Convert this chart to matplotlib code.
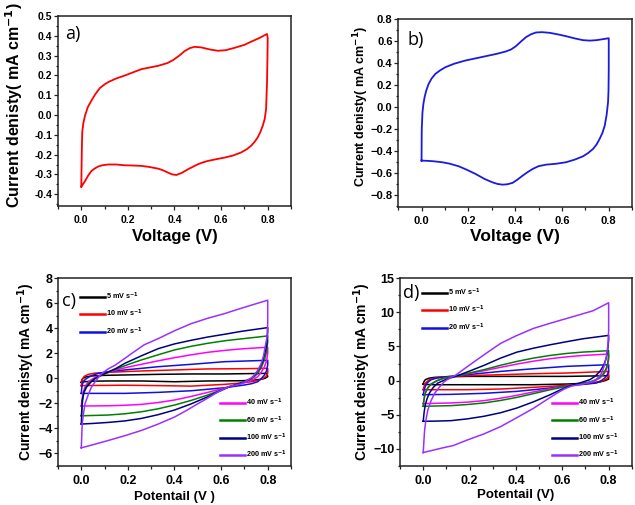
import matplotlib
matplotlib.use("Agg")
import matplotlib.pyplot as plt
from matplotlib.ticker import MultipleLocator, AutoMinorLocator
from matplotlib.lines import Line2D

# ---- data: (V, j) points round each CV loop ----
# panel a (red)
a_loop = [(0, -0.362), (0.002, -0.2), (0.004, -0.087), (0.009, -0.04), (0.016, -0.003),
          (0.028, 0.04), (0.044, 0.074), (0.06, 0.105), (0.08, 0.137), (0.1, 0.155),
          (0.116, 0.167), (0.15, 0.185), (0.187, 0.2), (0.22, 0.215), (0.258, 0.232),
          (0.3, 0.242), (0.33, 0.249), (0.37, 0.263), (0.394, 0.278), (0.42, 0.3),
          (0.443, 0.323), (0.465, 0.338), (0.486, 0.345), (0.515, 0.342), (0.55, 0.332),
          (0.586, 0.325), (0.62, 0.328), (0.658, 0.34), (0.7, 0.355), (0.729, 0.371),
          (0.765, 0.39), (0.797, 0.41), (0.8, 0.39), (0.799, 0.3), (0.797, 0.167),
          (0.793, 0.03), (0.787, -0.02), (0.779, -0.053), (0.768, -0.087), (0.757, -0.113),
          (0.744, -0.135), (0.729, -0.155), (0.71, -0.173), (0.686, -0.189), (0.65, -0.205),
          (0.615, -0.215), (0.58, -0.223), (0.543, -0.232), (0.52, -0.24), (0.5, -0.249),
          (0.478, -0.262), (0.458, -0.274), (0.432, -0.292), (0.408, -0.303), (0.39, -0.3),
          (0.372, -0.291), (0.35, -0.279), (0.33, -0.271), (0.29, -0.262), (0.258, -0.257),
          (0.22, -0.255), (0.187, -0.254), (0.15, -0.25), (0.115, -0.25), (0.09, -0.254),
          (0.073, -0.26), (0.058, -0.27), (0.044, -0.282), (0.03, -0.305), (0.016, -0.334),
          (0.006, -0.352), (0, -0.362)]
# panel b (blue)
b_loop = [(0, -0.487), (0.0005, -0.3), (0.001, -0.199), (0.004, -0.047), (0.008, 0.03),
          (0.013, 0.09), (0.02, 0.15), (0.03, 0.21), (0.043, 0.26), (0.059, 0.302),
          (0.08, 0.335), (0.102, 0.363), (0.14, 0.395), (0.188, 0.424), (0.23, 0.443),
          (0.274, 0.463), (0.32, 0.484), (0.36, 0.506), (0.383, 0.525), (0.403, 0.554),
          (0.425, 0.597), (0.446, 0.636), (0.467, 0.662), (0.489, 0.679), (0.515, 0.682),
          (0.547, 0.676), (0.58, 0.663), (0.618, 0.645), (0.655, 0.625), (0.69, 0.609),
          (0.72, 0.605), (0.747, 0.609), (0.775, 0.618), (0.8, 0.627), (0.8, 0.606),
          (0.8, 0.348), (0.799, 0.15), (0.797, 0.044), (0.791, -0.07), (0.783, -0.168),
          (0.773, -0.235), (0.761, -0.29), (0.748, -0.34), (0.733, -0.381), (0.712, -0.418),
          (0.69, -0.448), (0.655, -0.478), (0.618, -0.502), (0.575, -0.516), (0.532, -0.524),
          (0.5, -0.538), (0.475, -0.563), (0.452, -0.594), (0.432, -0.624), (0.41, -0.66),
          (0.389, -0.69), (0.366, -0.703), (0.346, -0.706), (0.325, -0.7), (0.303, -0.685),
          (0.27, -0.655), (0.231, -0.609), (0.195, -0.572), (0.159, -0.539), (0.12, -0.515),
          (0.088, -0.502), (0.05, -0.493), (0.03, -0.49), (0, -0.487)]

# panel c
c_labels = ["5 mV s$^{-1}$", "10 mV s$^{-1}$", "20 mV s$^{-1}$", "40 mV s$^{-1}$",
            "60 mV s$^{-1}$", "100 mV s$^{-1}$", "200 mV s$^{-1}$"]
c_5 = [(0, -0.32), (0.003, -0.1), (0.008, 0), (0.02, 0.12), (0.044, 0.19), (0.1, 0.24),
       (0.187, 0.27), (0.33, 0.32), (0.472, 0.35), (0.615, 0.35), (0.797, 0.4), (0.8, 0.13),
       (0.788, 0), (0.771, -0.08), (0.735, -0.15), (0.686, -0.19), (0.543, -0.21),
       (0.401, -0.27), (0.258, -0.21), (0.116, -0.21), (0.04, -0.23), (0.01, -0.28), (0, -0.32)]
c_10 = [(0, -0.59), (0.004, -0.13), (0.012, 0.15), (0.03, 0.32), (0.06, 0.42), (0.115, 0.48),
        (0.26, 0.59), (0.4, 0.67), (0.54, 0.75), (0.69, 0.77), (0.8, 0.8), (0.8, 0.4),
        (0.792, 0.15), (0.78, 0), (0.76, -0.15), (0.73, -0.27), (0.68, -0.38), (0.615, -0.48),
        (0.47, -0.62), (0.33, -0.58), (0.187, -0.55), (0.044, -0.57), (0, -0.59)]
c_20 = [(0, -1.2), (0.002, -0.8), (0.004, -0.53), (0.01, -0.22), (0.023, 0), (0.045, 0.22),
        (0.073, 0.4), (0.12, 0.54), (0.187, 0.67), (0.33, 0.93), (0.472, 1.12), (0.615, 1.33),
        (0.8, 1.44), (0.8, 1.07), (0.795, 0.6), (0.786, 0.27), (0.773, 0), (0.757, -0.27),
        (0.73, -0.43), (0.7, -0.53), (0.615, -0.75), (0.472, -0.99), (0.33, -1.12),
        (0.187, -1.2), (0.02, -1.2), (0, -1.2)]
c_40 = [(0, -2.21), (0.004, -1.6), (0.009, -1.07), (0.018, -0.6), (0.03, -0.27),
        (0.05, -0.02), (0.073, 0.19), (0.11, 0.43), (0.15, 0.67), (0.2, 0.9), (0.258, 1.12),
        (0.33, 1.4), (0.4, 1.65), (0.472, 1.88), (0.543, 2.08), (0.615, 2.23), (0.686, 2.35),
        (0.75, 2.43), (0.8, 2.48), (0.8, 2.0), (0.795, 1.4), (0.786, 0.93), (0.772, 0.48),
        (0.757, 0.13), (0.738, -0.1), (0.714, -0.27), (0.636, -0.67), (0.543, -1.12),
        (0.47, -1.45), (0.4, -1.73), (0.33, -1.93), (0.258, -2.08), (0.187, -2.15),
        (0.115, -2.19), (0, -2.21)]
c_60 = [(0, -2.99), (0.004, -2.1), (0.009, -1.33), (0.018, -0.8), (0.03, -0.4), (0.05, -0.12),
        (0.073, 0.13), (0.11, 0.44), (0.15, 0.75), (0.2, 1.1), (0.258, 1.47), (0.33, 1.88),
        (0.4, 2.27), (0.472, 2.56), (0.543, 2.8), (0.615, 3.0), (0.686, 3.15), (0.75, 3.28),
        (0.8, 3.39), (0.8, 2.93), (0.795, 2.1), (0.786, 1.47), (0.772, 0.85), (0.757, 0.4),
        (0.74, 0.08), (0.72, -0.13), (0.68, -0.4), (0.636, -0.67), (0.543, -1.33),
        (0.47, -1.77), (0.4, -2.13), (0.33, -2.43), (0.258, -2.67), (0.187, -2.83),
        (0.115, -2.93), (0, -2.99)]
c_100 = [(0, -3.65), (0.002, -2.8), (0.004, -1.76), (0.012, -1.07), (0.023, -0.69),
         (0.04, -0.33), (0.058, -0.03), (0.087, 0.27), (0.116, 0.51), (0.15, 0.8),
         (0.187, 1.2), (0.258, 1.8), (0.33, 2.37), (0.4, 2.75), (0.472, 3.04), (0.543, 3.3),
         (0.615, 3.52), (0.686, 3.75), (0.75, 3.92), (0.8, 4.05), (0.8, 3.73), (0.795, 2.6),
         (0.786, 1.87), (0.776, 1.25), (0.764, 0.8), (0.748, 0.35), (0.729, 0), (0.69, -0.35),
         (0.636, -0.67), (0.59, -1.05), (0.543, -1.47), (0.47, -2.05), (0.4, -2.53),
         (0.33, -2.9), (0.258, -3.2), (0.187, -3.4), (0.115, -3.52), (0.05, -3.6), (0, -3.65)]
c_200 = [(0, -5.55), (0.002, -4.6), (0.004, -3.63), (0.01, -2.75), (0.016, -2.03),
         (0.03, -1.3), (0.044, -0.69), (0.065, -0.12), (0.087, 0.37), (0.115, 0.75),
         (0.144, 1.04), (0.18, 1.5), (0.215, 1.97), (0.27, 2.68), (0.33, 3.17), (0.4, 3.8),
         (0.472, 4.37), (0.543, 4.8), (0.615, 5.17), (0.67, 5.5), (0.729, 5.84), (0.8, 6.24),
         (0.8, 4.37), (0.797, 3.3), (0.789, 2.51), (0.782, 1.8), (0.772, 1.17), (0.756, 0.6),
         (0.736, 0.11), (0.71, -0.2), (0.686, -0.43), (0.66, -0.55), (0.636, -0.64),
         (0.586, -1.09), (0.545, -1.55), (0.5, -2.03), (0.45, -2.58), (0.4, -3.09),
         (0.33, -3.65), (0.258, -4.16), (0.187, -4.58), (0.116, -4.96), (0.06, -5.25),
         (0, -5.55)]

# panel d
d_5 = [(0, -0.5), (0.003, -0.15), (0.009, 0.14), (0.025, 0.36), (0.049, 0.48), (0.1, 0.56),
       (0.191, 0.62), (0.334, 0.62), (0.476, 0.62), (0.619, 0.62), (0.8, 0.72), (0.8, 0.23),
       (0.785, 0), (0.762, -0.2), (0.7, -0.38), (0.619, -0.5), (0.476, -0.6), (0.334, -0.6),
       (0.191, -0.6), (0.049, -0.6), (0.01, -0.56), (0, -0.5)]
d_10 = [(0, -1.33), (0.004, -0.8), (0.009, -0.35), (0.025, 0.1), (0.049, 0.38), (0.1, 0.58),
        (0.191, 0.72), (0.334, 0.87), (0.476, 1.01), (0.619, 1.11), (0.8, 1.35), (0.8, 0.62),
        (0.79, 0.25), (0.776, -0.01), (0.75, -0.22), (0.719, -0.4), (0.619, -0.69),
        (0.476, -0.98), (0.334, -1.23), (0.191, -1.33), (0.049, -1.33), (0, -1.33)]
d_20 = [(0, -2.06), (0.004, -1.4), (0.009, -0.84), (0.018, -0.3), (0.034, 0.14),
        (0.06, 0.38), (0.091, 0.53), (0.191, 0.87), (0.334, 1.35), (0.476, 1.74),
        (0.619, 2.09), (0.8, 2.33), (0.8, 1.35), (0.793, 0.8), (0.783, 0.38), (0.768, 0),
        (0.748, -0.35), (0.7, -0.52), (0.641, -0.69), (0.548, -1.08), (0.405, -1.57),
        (0.262, -1.86), (0.12, -2.01), (0, -2.06)]
d_40 = [(0, -3.37), (0.004, -2.5), (0.009, -1.81), (0.02, -1.05), (0.034, -0.5), (0.06, 0.0),
        (0.091, 0.38), (0.148, 0.72), (0.2, 1.05), (0.262, 1.45), (0.334, 1.95), (0.405, 2.43),
        (0.476, 2.85), (0.548, 3.21), (0.619, 3.48), (0.69, 3.69), (0.8, 3.89), (0.8, 3.06),
        (0.796, 2.3), (0.79, 1.6), (0.778, 0.9), (0.762, 0.38), (0.742, 0.02), (0.719, -0.25),
        (0.641, -0.69), (0.548, -1.18), (0.476, -1.65), (0.405, -2.15), (0.334, -2.58),
        (0.262, -2.93), (0.19, -3.15), (0.12, -3.27), (0, -3.37)]
d_60 = [(0, -3.76), (0.004, -2.7), (0.009, -1.81), (0.02, -1.05), (0.034, -0.5), (0.06, 0.0),
        (0.091, 0.38), (0.148, 0.72), (0.2, 1.12), (0.262, 1.6), (0.334, 2.25), (0.405, 2.82),
        (0.476, 3.3), (0.548, 3.69), (0.619, 3.98), (0.69, 4.18), (0.8, 4.38), (0.8, 3.55),
        (0.796, 2.6), (0.79, 1.84), (0.778, 1.05), (0.762, 0.48), (0.742, 0.08), (0.719, -0.2),
        (0.641, -0.69), (0.548, -1.33), (0.476, -1.9), (0.405, -2.45), (0.334, -2.9),
        (0.262, -3.27), (0.19, -3.5), (0.12, -3.66), (0, -3.76)]
d_100 = [(0, -5.95), (0.004, -4.6), (0.009, -3.52), (0.017, -2.6), (0.027, -1.81),
         (0.043, -1.0), (0.063, -0.35), (0.1, 0.2), (0.148, 0.72), (0.2, 1.4), (0.262, 2.23),
         (0.334, 3.3), (0.405, 4.18), (0.476, 4.75), (0.548, 5.25), (0.619, 5.7), (0.69, 6.13),
         (0.75, 6.4), (0.8, 6.62), (0.8, 5.98), (0.796, 4.5), (0.79, 3.3), (0.778, 2.2),
         (0.762, 1.35), (0.742, 0.65), (0.719, 0.14), (0.68, -0.3), (0.641, -0.69),
         (0.595, -1.3), (0.548, -2.06), (0.476, -3.1), (0.405, -4.0), (0.334, -4.7),
         (0.262, -5.22), (0.19, -5.6), (0.12, -5.86), (0.05, -5.93), (0, -5.95)]
d_200 = [(0, -10.53), (0.003, -8.8), (0.006, -7.22), (0.012, -5.7), (0.02, -4.29),
         (0.033, -3.0), (0.049, -1.86), (0.07, -0.95), (0.091, -0.15), (0.115, 0.4),
         (0.141, 0.82), (0.18, 1.8), (0.22, 2.77), (0.28, 4.2), (0.334, 5.45), (0.4, 6.55),
         (0.476, 7.65), (0.548, 8.4), (0.619, 9.1), (0.68, 9.7), (0.733, 10.23), (0.8, 11.4),
         (0.8, 7.4), (0.797, 5.2), (0.79, 3.5), (0.781, 2.15), (0.769, 1.07), (0.752, 0.35),
         (0.733, -0.15), (0.69, -0.5), (0.641, -0.79), (0.61, -1.2), (0.576, -1.86),
         (0.53, -2.85), (0.476, -4.05), (0.405, -5.4), (0.334, -6.73), (0.262, -7.8),
         (0.191, -8.68), (0.13, -9.5), (0.077, -9.9), (0, -10.53)]

rate_colors = ["black", "#ff0000", "#1010e0", "#ff00ff", "#008000", "#000080", "#9a30ff"]

plt.rcParams['font.family'] = ['Liberation Sans', 'DejaVu Sans']
plt.rcParams['mathtext.default'] = 'bf'

fig = plt.figure(figsize=(6.35, 5.05), dpi=100)
ax_a = fig.add_axes([0.0913, 0.592, 0.367, 0.376])
ax_b = fig.add_axes([0.627, 0.590, 0.3685, 0.372])
ax_c = fig.add_axes([0.0913, 0.0772, 0.367, 0.372])
ax_d = fig.add_axes([0.630, 0.0772, 0.365, 0.372])


def style(ax, ylim, ymaj, tick_size):
    ax.set_xlim(-0.1, 0.9)
    ax.set_ylim(*ylim)
    ax.xaxis.set_major_locator(MultipleLocator(0.2))
    ax.xaxis.set_minor_locator(AutoMinorLocator(2))
    ax.yaxis.set_major_locator(MultipleLocator(ymaj))
    ax.yaxis.set_minor_locator(AutoMinorLocator(2))
    ax.tick_params(which='both', direction='out', top=False, right=False,
                   labelsize=tick_size, width=0.9, color='#222222')
    ax.tick_params(which='major', length=3)
    ax.tick_params(which='minor', length=1.8)
    ax.tick_params(axis='y', pad=1)
    ax.tick_params(axis='x', pad=3.5)
    for lab in ax.get_xticklabels() + ax.get_yticklabels():
        lab.set_fontweight('bold')
    for s in ax.spines.values():
        s.set_linewidth(1.1)
        s.set_color('#222222')


def loop(ax, pts, color, lw=1.2):
    v, j = zip(*pts)
    ax.plot(v, j, color=color, lw=lw, solid_joinstyle='round')


loop(ax_a, a_loop, "#ff0000", 1.3)
style(ax_a, (-0.46, 0.5), 0.1, 7.5)
a_ticks = [-0.4, -0.3, -0.2, -0.1, 0.0, 0.1, 0.2, 0.3, 0.4, 0.5]
ax_a.set_yticks(a_ticks)
ax_a.set_yticklabels([f"{t:.1f}" for t in a_ticks], fontweight='bold')
ax_a.set_xlabel("Voltage (V)", fontsize=12, fontweight='bold')
ax_a.xaxis.set_label_coords(0.5, -0.121)
ax_a.set_ylabel("Current denisty( mA cm$^{-1}$)", fontsize=11.5, fontweight='bold')
ax_a.yaxis.set_label_coords(-0.14, 0.53)
ax_a.text(0.03, 0.905, "a)", transform=ax_a.transAxes, fontsize=13,
          family='Open Sans', va='center', ha='left')

loop(ax_b, b_loop, "#1a1ae0", 1.3)
style(ax_b, (-0.91, 0.8), 0.2, 8)
ax_b.set_xlabel("Voltage (V)", fontsize=12.5, fontweight='bold')
ax_b.xaxis.set_label_coords(0.5, -0.117)
ax_b.set_ylabel("Current denisty( mA cm$^{-1}$)", fontsize=9, fontweight='bold')
ax_b.yaxis.set_label_coords(-0.115, 0.537)
ax_b.text(0.04, 0.89, "b)", transform=ax_b.transAxes, fontsize=13,
          family='Open Sans', va='center', ha='left')

for ax, curves, ylim, ymaj, tag, tag_pos, xl, ylab_x, xlab_y, leg1, leg2 in [
        (ax_c, [c_5, c_10, c_20, c_40, c_60, c_100, c_200], (-7, 8), 2, "c)", (0.017, 0.88),
         "Potentail (V )", -0.088, -0.133, (0.094, 0.935), (0.695, 0.03)),
        (ax_d, [d_5, d_10, d_20, d_40, d_60, d_100, d_200], (-12.5, 15), 5, "d)", (0.013, 0.92),
         "Potentail (V)", -0.115, -0.122, (0.095, 0.955), (0.655, 0.03))]:
    for pts, col in zip(curves, rate_colors):
        loop(ax, pts, col, 1.1)
    style(ax, ylim, ymaj, 9)
    ax.set_xlabel(xl, fontsize=9.5, fontweight='bold')
    ax.xaxis.set_label_coords(0.5, xlab_y)
    ax.set_ylabel("Current denisty( mA cm$^{-1}$)", fontsize=10, fontweight='bold')
    ax.yaxis.set_label_coords(ylab_x, 0.5)
    ax.text(tag_pos[0], tag_pos[1], tag, transform=ax.transAxes, fontsize=13,
            family='Open Sans', va='center', ha='left')
    handles = [Line2D([], [], color=c, lw=1.8) for c in rate_colors]
    lg1 = ax.legend(handles[:3], c_labels[:3], loc='upper left', bbox_to_anchor=leg1,
                    frameon=False, borderpad=0, borderaxespad=0, handlelength=3.5,
                    handletextpad=0.1, labelspacing=0.85,
                    prop={'size': 5.2, 'weight': 'bold'})
    ax.add_artist(lg1)
    ax.legend(handles[3:], c_labels[3:], loc='lower left', bbox_to_anchor=leg2,
              frameon=False, borderpad=0, borderaxespad=0, handlelength=3.5,
              handletextpad=0.1, labelspacing=0.85, prop={'size': 5.2, 'weight': 'bold'})

fig.savefig("out.png", dpi=100)
